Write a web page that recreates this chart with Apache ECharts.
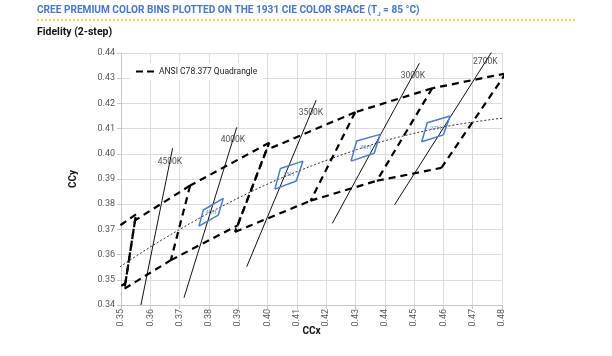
<!DOCTYPE html>
<html>
<head>
<meta charset="utf-8">
<script src="https://cdn.jsdelivr.net/npm/echarts@6/dist/echarts.min.js"></script>
<style>
html,body{margin:0;padding:0;background:#fff;}
#c{width:612px;height:356px;}
</style>
</head>
<body>
<div id="c"></div>
<script>
// ---- DATA ----
const xTicks = [0.35, 0.48, 0.01];
const yTicks = [0.34, 0.44, 0.01];

// ANSI C78.377 quadrangles (corners: CCx, CCy)
const quad2700 = [[0.4813,0.4319],[0.4562,0.4260],[0.4373,0.3893],[0.4593,0.3944]];
const quad3000 = [[0.4562,0.4260],[0.4299,0.4165],[0.4147,0.3814],[0.4373,0.3893]];
const quad3500 = [[0.4299,0.4165],[0.3996,0.4015],[0.3889,0.3690],[0.4147,0.3814]];
const quad4000 = [[0.4006,0.4044],[0.3736,0.3874],[0.3670,0.3578],[0.3898,0.3716]];
const quad4500 = [[0.3736,0.3874],[0.3548,0.3736],[0.3512,0.3465],[0.3670,0.3578]];
const quad5000 = [[0.3551,0.3760],[0.3376,0.3616],[0.3366,0.3369],[0.3515,0.3487]];

// Planckian locus (black body curve)
const planckX = [0.3451, 0.3608, 0.3805, 0.4053, 0.4369, 0.4599, 0.4770, 0.4862];
const planckY = [0.3516, 0.3636, 0.3768, 0.3907, 0.4041, 0.4106, 0.4137, 0.4147];

// CCT isotherm lines [start, end]
const isoNames = ['4500K', '4000K', '3500K', '3000K', '2700K'];
const iso4500 = [[0.3568,0.3400],[0.3676,0.4022]];
const iso4000 = [[0.3715,0.3429],[0.3895,0.4105]];
const iso3500 = [[0.3929,0.3552],[0.4166,0.4213]];
const iso3000 = [[0.4221,0.3724],[0.4518,0.4359]];
const iso2700 = [[0.4433,0.3797],[0.4768,0.4410]];
// isotherm label anchors (chart coordinates)
const isoLabelAt = [[0.3667,0.3967],[0.3882,0.4055],[0.4148,0.4163],[0.4496,0.4310],[0.4743,0.4364]];

// Cree premium colour bins (corners)
const binNames = ['40H', '35H', '30H', '27H'];
const bin40 = [[0.3766,0.3713],[0.3781,0.3777],[0.3849,0.3823],[0.3832,0.3757]];
const bin35 = [[0.4025,0.3860],[0.4044,0.3942],[0.4121,0.3971],[0.4098,0.3892]];
const bin30 = [[0.4285,0.3971],[0.4304,0.4051],[0.4384,0.4077],[0.4364,0.4002]];
const bin27 = [[0.4526,0.4048],[0.4545,0.4123],[0.4623,0.4150],[0.4600,0.4075]];

// ---- CHART ----
const FONT = 'Roboto';
const QUAD = 'ANSI C78.377 Quadrangle';
const close = p => p.concat([p[0]]);
const center = p => [p.reduce((s,q)=>s+q[0],0)/p.length, p.reduce((s,q)=>s+q[1],0)/p.length];

const series = [];
// unique quadrangle edges (shared edges drawn once)
const edges = [];
const same = (a, b) => a[0] === b[0] && a[1] === b[1];
[quad2700, quad3000, quad3500, quad4000, quad4500, quad5000].forEach(q => {
  for (let i = 0; i < q.length; i++) {
    const a = q[i], b = q[(i + 1) % q.length];
    if (!edges.some(e => (same(e[0], a) && same(e[1], b)) || (same(e[0], b) && same(e[1], a)))) {
      edges.push([a, b]);
    }
  }
});
edges.forEach(e => {
  series.push({
    name: QUAD, type: 'line', data: e, symbol: 'none', z: 4,
    lineStyle: {color: '#000', width: 2.2, type: [7, 5]},
    itemStyle: {color: '#000'}
  });
});
series.push({
  name: 'Planckian', type: 'line', data: planckX.map((x,i)=>[x, planckY[i]]),
  symbol: 'none', smooth: 0.3, z: 3,
  lineStyle: {color: '#333', width: 1, type: [2, 2]}
});
[iso4500, iso4000, iso3500, iso3000, iso2700].forEach((l, i) => {
  series.push({
    name: 'iso' + isoNames[i], type: 'line', data: l, symbol: 'none', z: 3,
    lineStyle: {color: '#111', width: 1}
  });
});
[bin40, bin35, bin30, bin27].forEach((b, i) => {
  series.push({
    name: 'bin' + binNames[i], type: 'line', data: close(b), symbol: 'none', z: 5,
    lineStyle: {color: '#4a7cc9', width: 1.5}
  });
});
series.push({
  name: 'isoLabels', type: 'scatter', symbolSize: 0, z: 6,
  data: isoLabelAt.map((p,i)=>({value: p, name: isoNames[i]})),
  label: {show: true, position: 'inside', formatter: '{b}', color: '#222', fontSize: 8.5, fontFamily: FONT}
});
series.push({
  name: 'binLabels', type: 'scatter', symbolSize: 0, z: 6,
  data: [bin40, bin35, bin30, bin27].map((b,i)=>({value: center(b), name: binNames[i]})),
  label: {show: true, position: 'inside', formatter: '{b}', color: '#4a7cc9', fontSize: 6, fontFamily: FONT}
});

const chart = echarts.init(document.getElementById('c'), null, {renderer: 'canvas'});
chart.setOption({
  animation: false,
  backgroundColor: '#fff',
  textStyle: {fontFamily: FONT},
  grid: {left: 121, right: 110, top: 53, bottom: 51, containLabel: false},
  legend: {
    data: [{name: QUAD, icon: 'path://M0,0H7V2H0Z M11,0H18V2H11Z'}],
    left: 130, top: 63, itemWidth: 18, itemHeight: 2.2, itemGap: 6,
    backgroundColor: '#fff', padding: [4, 6],
    itemStyle: {color: '#000'},
    textStyle: {fontSize: 8.5, color: '#222', fontFamily: FONT}
  },
  xAxis: {
    type: 'value', min: xTicks[0], max: xTicks[1], interval: xTicks[2],
    name: 'CCx', nameLocation: 'middle', nameGap: 21, nameMoveOverlap: false,
    nameTextStyle: {fontSize: 10, fontWeight: 'bold', color: '#111', fontFamily: FONT},
    axisLine: {show: true, lineStyle: {color: '#c8c8c8'}},
    axisTick: {show: true, length: 4, lineStyle: {color: '#c8c8c8'}},
    axisLabel: {rotate: 90, fontSize: 9, color: '#555', margin: 4, formatter: v => v.toFixed(2)},
    splitLine: {show: true, lineStyle: {color: '#dcdcdc', width: 1}}
  },
  yAxis: {
    type: 'value', min: yTicks[0], max: yTicks[1], interval: yTicks[2],
    name: 'CCy', nameLocation: 'middle', nameGap: 43, nameRotate: 90, nameMoveOverlap: false,
    nameTextStyle: {fontSize: 10, fontWeight: 'bold', color: '#111', fontFamily: FONT},
    axisLine: {show: true, lineStyle: {color: '#c8c8c8'}},
    axisTick: {show: true, length: 4, lineStyle: {color: '#c8c8c8'}},
    axisLabel: {fontSize: 9, color: '#555', margin: 6, formatter: v => v.toFixed(2)},
    splitLine: {show: true, lineStyle: {color: '#dcdcdc', width: 1}}
  },
  graphic: [
    {
      type: 'text', left: 37, top: 5,
      style: {
        text: '{a|CREE PREMIUM COLOR BINS PLOTTED ON THE 1931 CIE COLOR SPACE (T}{b|J}{a| = 85 °C)}',
        rich: {
          a: {fontSize: 10.1, fontWeight: 'bold', fill: '#4677c8', fontFamily: FONT, lineHeight: 14},
          b: {fontSize: 6, fontWeight: 'bold', fill: '#4677c8', fontFamily: FONT, lineHeight: 8, verticalAlign: 'bottom'}
        }
      }
    },
    {
      type: 'line', shape: {x1: 37, y1: 20, x2: 576, y2: 20},
      style: {stroke: '#f5c518', lineWidth: 1.5, lineDash: [2, 2]}
    },
    {
      type: 'text', left: 37, top: 27,
      style: {text: 'Fidelity (2-step)', fontSize: 10.5, fontWeight: 'bold', fill: '#111', fontFamily: FONT}
    }
  ],
  series: series
});
</script>
</body>
</html>
